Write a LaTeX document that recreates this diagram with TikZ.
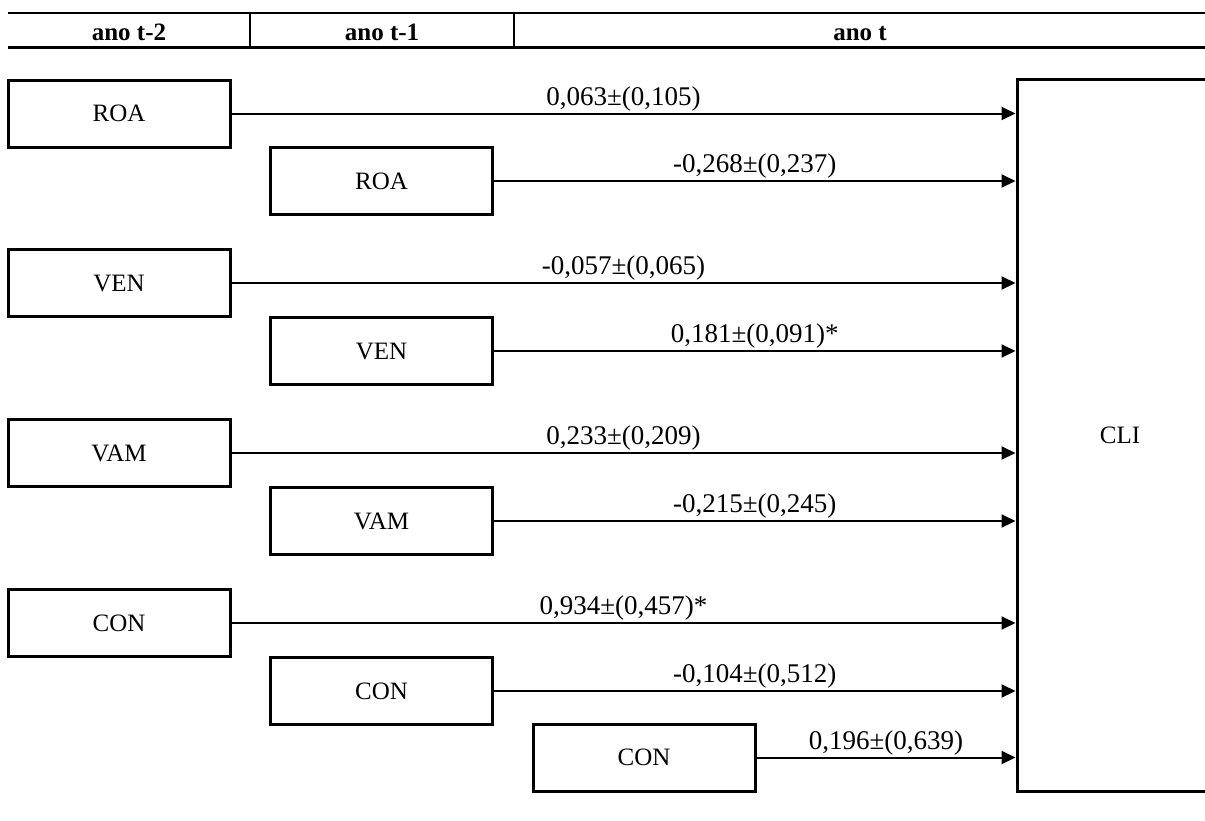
\documentclass[tikz,border=0pt]{standalone}
\usepackage{fontspec}
\setmainfont{Liberation Serif}
\usetikzlibrary{arrows.meta}

\tikzset{
  txt/.style={font=\fontsize{25}{30}\selectfont},
  head/.style={font=\fontsize{25}{30}\selectfont\bfseries, anchor=base},
  varbox/.style={draw, line width=3pt, minimum width=222pt, minimum height=67pt,
                 inner sep=0pt, txt},
  outbox/.style={draw, line width=3pt, minimum width=206pt, minimum height=712pt,
                 inner sep=0pt, txt},
  conn/.style={line width=2pt, -{Triangle[length=14pt,width=13pt]}},
  coef/.style={midway, above, inner sep=1.5pt, font=\fontsize{27}{32}\selectfont}
}

\begin{document}
\begin{tikzpicture}[x=1pt, y=-1pt]
  \useasboundingbox (0,0) rectangle (1205,820);
  \clip (0,0) rectangle (1205,820);

  % header rows with the three periods
  \draw[line width=2pt] (8,13) -- (1205,13);
  \draw[line width=3pt] (8,47) -- (1205,47);
  \draw[line width=1.5pt] (250,13) -- (250,47);
  \draw[line width=1.5pt] (514,13) -- (514,47);
  \node[head] (h2) at (129,40) {ano t-2};
  \node[head] (h1) at (382,40) {ano t-1};
  \node[head] (h0) at (860,40) {ano t};

  % dependent variable
  \node[outbox] (cli) at (1120,435) {CLI};

  % lagged predictors
  \node[varbox] (roa2) at (119,113.5) {ROA};
  \node[varbox] (roa1) at (381.5,181) {ROA};
  \node[varbox] (ven2) at (119,283) {VEN};
  \node[varbox] (ven1) at (381.5,351) {VEN};
  \node[varbox] (vam2) at (119,453) {VAM};
  \node[varbox] (vam1) at (381.5,521) {VAM};
  \node[varbox] (con2) at (119,623) {CON};
  \node[varbox] (con1) at (381.5,691) {CON};
  \node[varbox] (con0) at (644,757.5) {CON};

  % paths with coefficients
  \draw[conn] (roa2.east) -- (roa2.east -| cli.west) node[coef] {0,063±(0,105)};
  \draw[conn] (roa1.east) -- (roa1.east -| cli.west) node[coef] {-0,268±(0,237)};
  \draw[conn] (ven2.east) -- (ven2.east -| cli.west) node[coef] {-0,057±(0,065)};
  \draw[conn] (ven1.east) -- (ven1.east -| cli.west) node[coef] {0,181±(0,091)*};
  \draw[conn] (vam2.east) -- (vam2.east -| cli.west) node[coef] {0,233±(0,209)};
  \draw[conn] (vam1.east) -- (vam1.east -| cli.west) node[coef] {-0,215±(0,245)};
  \draw[conn] (con2.east) -- (con2.east -| cli.west) node[coef] {0,934±(0,457)*};
  \draw[conn] (con1.east) -- (con1.east -| cli.west) node[coef] {-0,104±(0,512)};
  \draw[conn] (con0.east) -- (con0.east -| cli.west) node[coef] {0,196±(0,639)};
\end{tikzpicture}
\end{document}
